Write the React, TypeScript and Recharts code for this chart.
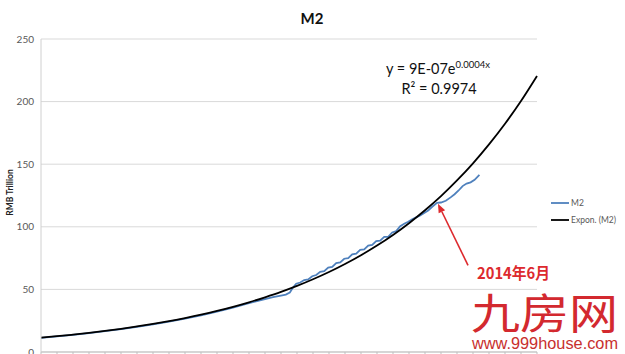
import React from 'react';
import { LineChart, Line, XAxis, YAxis, CartesianGrid, ReferenceLine } from 'recharts';

// x axis: period index (one unit per tick mark), y axis: RMB trillion
const periodTicks = [0, 1, 2, 3, 4, 5, 6, 7, 8, 9, 10, 11, 12, 13, 14, 15, 16, 17, 18, 19, 20, 21, 22, 23, 24, 25, 26, 27, 28, 29, 30, 31];
const valueTicks = [0, 50, 100, 150, 200, 250];

// M2 series
const m2X = [0, 1, 2, 3, 4, 5, 6, 7, 8, 9, 10, 11, 12, 13, 13.5, 14, 14.5, 15.0, 15.3, 15.55, 15.75, 15.95, 16.2, 16.45, 16.7, 16.95, 17.2, 17.45, 17.7, 17.95, 18.2, 18.45, 18.7, 18.95, 19.2, 19.45, 19.7, 19.95, 20.2, 20.45, 20.7, 20.95, 21.2, 21.45, 21.7, 21.95, 22.2, 22.45, 22.7, 22.95, 23.2, 23.45, 23.7, 23.95, 24.2, 24.45, 24.75, 25.0, 25.3, 25.6, 25.85, 26.1, 26.35, 26.6, 26.85, 27.1, 27.4];
const m2Y = [11.3, 12.4, 13.7, 15.1, 16.6, 18.2, 20.1, 22.1, 24.3, 26.7, 29.3, 32.3, 35.5, 39.0, 40.6, 42.2, 43.8, 45.0, 45.8, 47.5, 51.5, 54.5, 55.5, 57.5, 58.0, 60.5, 61.5, 64.0, 64.5, 67.5, 68.0, 71.0, 71.5, 74.5, 75.0, 78.0, 78.5, 81.5, 82.0, 85.0, 85.5, 88.5, 89.0, 92.0, 92.0, 95.5, 96.5, 100.5, 102.5, 104.0, 106.0, 107.5, 109.0, 111.0, 113.0, 116.0, 119.2, 119.4, 120.8, 123.5, 126.0, 129.0, 132.5, 134.5, 135.5, 137.5, 141.5];

// Exponential trend line Expon. (M2) (at each tick)
const trendX = periodTicks;
const trendY = [11.5, 12.6, 13.9, 15.3, 16.8, 18.5, 20.4, 22.4, 24.6, 27.1, 29.8, 32.8, 36.1, 39.7, 43.7, 48.0, 52.8, 58.1, 63.9, 70.3, 77.3, 85.0, 93.5, 102.9, 113.2, 124.5, 137.0, 150.7, 165.8, 182.3, 200.5, 220.5];

// annotation arrow (2014年6月)
const arrowTail = { x: 26.69, y: 69.2 };
const arrowHead = { x: 24.81, y: 118.5 };

const m2Data = m2X.map((x, i) => ({ x, y: m2Y[i] }));
const trendData = trendX.map((x, i) => ({ x, y: trendY[i] }));

const RED = '#dd2a2e';
const FONT = 'Lato, "Liberation Sans", sans-serif';

const Arrow = (p: any) => {
  const { x1, y1, x2, y2 } = p;
  const ang = Math.atan2(y2 - y1, x2 - x1);
  const L = 9;
  const W = 3.6;
  const bx = x2 - L * Math.cos(ang);
  const by = y2 - L * Math.sin(ang);
  const pts = `${x2},${y2} ${bx + W * Math.sin(ang)},${by - W * Math.cos(ang)} ${bx - W * Math.sin(ang)},${by + W * Math.cos(ang)}`;
  return (
    <g>
      <line x1={x1} y1={y1} x2={bx} y2={by} stroke={RED} strokeWidth={1.6} />
      <polygon points={pts} fill={RED} />
    </g>
  );
};

const YLabel = (props: any) => {
  const vb = props.viewBox || { x: 0, y: 39, width: 41, height: 313 };
  const cx = vb.x + 10;
  const cy = vb.y + vb.height / 2 - 3;
  return (
    <text
      x={cx}
      y={cy}
      transform={`rotate(-90 ${cx} ${cy})`}
      textAnchor="middle"
      dominantBaseline="central"
      fontSize={8.5}
      fontWeight="bold"
      fontFamily={FONT}
      fill="#222"
    >
      RMB Trillion
    </text>
  );
};

export default function App() {
  return (
    <div style={{ position: 'fixed', left: 0, top: 0, width: 625, height: 354, background: '#fff', overflow: 'hidden' }}>
      <LineChart width={625} height={354} margin={{ top: 39, right: 88, bottom: 0, left: 0 }}>
        <CartesianGrid vertical={false} stroke="#d9d9d9" strokeWidth={1} />
        <XAxis
          type="number"
          dataKey="x"
          domain={[0, 31]}
          ticks={periodTicks}
          interval={0}
          tickFormatter={() => ''}
          tickSize={3}
          height={2}
          stroke="#bfbfbf"
          axisLine={{ stroke: '#bfbfbf' }}
          tickLine={{ stroke: '#bfbfbf' }}
        />
        <YAxis
          type="number"
          domain={[0, 250]}
          ticks={valueTicks}
          interval={0}
          width={41}
          tickLine={false}
          tickSize={0}
          tickMargin={7}
          axisLine={{ stroke: '#d0d0d0' }}
          tick={{ fill: '#595959', fontSize: 10, fontFamily: FONT }}
          label={<YLabel />}
        />
        <Line
          data={m2Data}
          dataKey="y"
          type="linear"
          stroke="#4f81bd"
          strokeWidth={1.8}
          dot={false}
          isAnimationActive={false}
        />
        <Line
          data={trendData}
          dataKey="y"
          type="monotone"
          stroke="#000"
          strokeWidth={1.8}
          dot={false}
          isAnimationActive={false}
        />
        <ReferenceLine segment={[arrowTail, arrowHead]} shape={Arrow} ifOverflow="visible" />
      </LineChart>
      <svg
        width={625}
        height={354}
        style={{ position: 'absolute', left: 0, top: 0, pointerEvents: 'none' }}
      >
        <text x={312} y={24} textAnchor="middle" fontSize={15} fontWeight="bold" fontFamily={FONT} fill="#111">M2</text>
        <text x={438} y={74} textAnchor="middle" fontSize={14.5} fontFamily={FONT} fill="#111">
          y = 9E-07e<tspan fontSize={9.5} dy={-6}>0.0004x</tspan>
        </text>
        <text x={439} y={94} textAnchor="middle" fontSize={14.5} fontFamily={FONT} fill="#111">R² = 0.9974</text>

        <line x1={551} y1={203} x2={569} y2={203} stroke="#4f81bd" strokeWidth={1.8} />
        <text x={571} y={206} fontSize={8.5} fontFamily={FONT} fill="#595959">M2</text>
        <line x1={551} y1={220} x2={569} y2={220} stroke="#000" strokeWidth={1.8} />
        <text x={571} y={223} fontSize={8.5} fontFamily={FONT} fill="#595959">Expon. (M2)</text>

        <text x={477} y={279} fontSize={15.5} fontWeight="bold" fontFamily={'"Noto Sans CJK SC", sans-serif'} fill={RED} textLength={73} lengthAdjust="spacingAndGlyphs">2014年6月</text>

        <text x={471} y={329} fontSize={42} fontFamily={'"Noto Sans CJK SC", sans-serif'} fill="#d3292f" textLength={147} lengthAdjust="spacingAndGlyphs">九房网</text>
        <text x={472} y={349} fontSize={16} fontFamily={'"Liberation Sans", Arial, sans-serif'} fill="#c8302e" textLength={146} lengthAdjust="spacingAndGlyphs">www.999house.com</text>
      </svg>
    </div>
  );
}
